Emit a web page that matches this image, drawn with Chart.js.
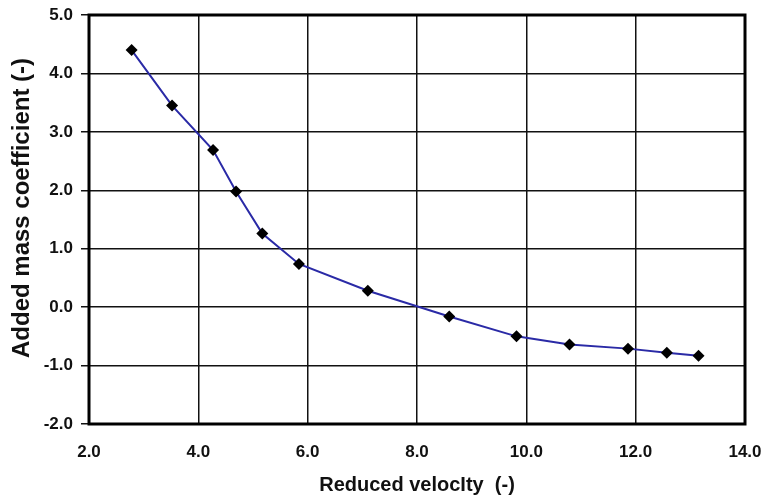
<!DOCTYPE html>
<html>
<head>
<meta charset="utf-8">
<script src="https://cdn.jsdelivr.net/npm/chart.js@4/dist/chart.umd.min.js"></script>
<style>
  html, body { margin: 0; background: #fff; }
  #wrap { width: 764px; height: 497px; }
</style>
</head>
<body>
<div id="wrap"><canvas id="chart"></canvas></div>
<script>
// reduced velocity (x) vs added mass coefficient (y)
const reducedVelocity = [2.78, 3.52, 4.27, 4.69, 5.17, 5.84, 7.10, 8.59, 9.82, 10.79, 11.86, 12.57, 13.15];
const addedMass = [4.40, 3.45, 2.69, 1.98, 1.26, 0.74, 0.28, -0.16, -0.50, -0.64, -0.71, -0.78, -0.83];
const xTicks = [2, 4, 6, 8, 10, 12, 14];
const yTicks = [-2, -1, 0, 1, 2, 3, 4, 5];
const yTitle = 'Added mass coefficient (-)';

const ink = '#111';
const fontFamily = 'Liberation Sans, Arial, sans-serif';
const labelFont = { family: fontFamily, size: 17, weight: 'bold' };
const titleFont = { family: fontFamily, size: 20, weight: 'bold' };

// heavy frame round the plot area
const plotFrame = {
  id: 'plotFrame',
  beforeDatasetsDraw(chart) {
    const { ctx, chartArea: a } = chart;
    ctx.save();
    ctx.strokeStyle = '#000';
    ctx.lineWidth = 3;
    ctx.strokeRect(a.left, a.top, a.right - a.left, a.bottom - a.top);
    ctx.restore();
  }
};

// vertical axis title, set a little above the plot's middle
const sideTitle = {
  id: 'sideTitle',
  afterDraw(chart) {
    const ctx = chart.ctx;
    ctx.save();
    ctx.translate(22, 208);
    ctx.rotate(-Math.PI / 2);
    ctx.font = 'bold 24px ' + fontFamily;
    ctx.fillStyle = ink;
    ctx.textAlign = 'center';
    ctx.textBaseline = 'middle';
    ctx.fillText(yTitle, 0, 0);
    ctx.restore();
  }
};

new Chart(document.getElementById('chart'), {
  type: 'scatter',
  data: {
    datasets: [{
      data: reducedVelocity.map((v, i) => ({ x: v, y: addedMass[i] })),
      showLine: true,
      borderColor: '#2a2aa6',
      borderWidth: 2,
      pointStyle: 'rectRot',
      pointRadius: 6,
      pointBackgroundColor: '#000',
      pointBorderColor: '#000',
      pointBorderWidth: 0
    }]
  },
  options: {
    responsive: true,
    maintainAspectRatio: false,
    animation: false,
    layout: { padding: { top: 15, right: 19, left: 0, bottom: 0 } },
    plugins: { legend: { display: false }, tooltip: { enabled: false } },
    scales: {
      x: {
        type: 'linear',
        min: xTicks[0],
        max: xTicks[xTicks.length - 1],
        afterBuildTicks: s => { s.ticks = xTicks.map(v => ({ value: v })); },
        afterFit: s => { s.height = 73; s.paddingLeft = 0; s.paddingRight = 0; },
        border: { display: false },
        grid: { color: ink, lineWidth: 1.5, drawTicks: false },
        ticks: { color: ink, font: labelFont, padding: 18, maxRotation: 0, callback: v => v.toFixed(1) },
        title: { display: true, text: 'Reduced velocIty  (-)', color: ink, font: titleFont, padding: { top: 0, bottom: 0 } }
      },
      y: {
        type: 'linear',
        min: yTicks[0],
        max: yTicks[yTicks.length - 1],
        afterBuildTicks: s => { s.ticks = yTicks.map(v => ({ value: v })); },
        afterFit: s => { s.width = 89; s.paddingTop = 0; s.paddingBottom = 0; },
        border: { display: false },
        grid: { color: ink, lineWidth: 1.5, tickLength: 8 },
        ticks: { color: ink, font: labelFont, padding: 8, callback: v => v.toFixed(1) }
      }
    }
  },
  plugins: [plotFrame, sideTitle]
});
</script>
</body>
</html>
